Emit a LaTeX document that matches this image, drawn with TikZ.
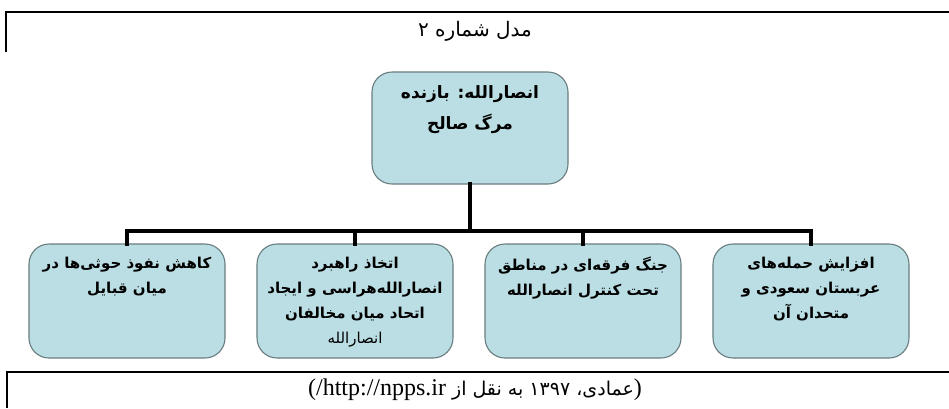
\documentclass[tikz,border=0pt]{standalone}
\usepackage{fontspec}
\setmainfont{Liberation Serif}
\newfontfamily\arabicfont[Script=Arabic]{DejaVu Sans}
\TeXXeTstate=1
\definecolor{boxfill}{RGB}{186,222,227}
\definecolor{boxline}{RGB}{105,125,128}
\tikzset{
  rbox/.style={draw=boxline, fill=boxfill, line width=1.1pt, rounded corners=20pt,
    minimum width=196pt, inner sep=0pt, outer sep=0pt},
  conn/.style={line width=3.6pt, line cap=rect},
  frame/.style={line width=2.2pt},
}
\newcommand{\rl}[1]{\beginR #1\endR}
\begin{document}
\begin{tikzpicture}[x=1pt,y=-1pt]
\useasboundingbox (0,0) rectangle (949,408);
% frames
\draw[frame] (6,52) -- (6,12) -- (949,12);
\draw[line width=1.6pt] (7,408) -- (7,372) -- (949,372);
\node (title) at (475,31) {\arabicfont\fontsize{20}{24}\selectfont\rl{مدل شماره ۲}};
% top box
\node[rbox, minimum height=112pt] (top) at (470,128)
  {\parbox[c][104pt][t]{190pt}{\centering\arabicfont\bfseries\fontsize{17}{31}\selectfont
   \vspace*{10pt}\rl{انصارالله: بازنده}\\ \rl{مرگ صالح}}};
% bottom boxes
\node[rbox, minimum height=114pt] (b1) at (127,301)
  {\parbox[c][106pt][t]{194pt}{\centering\arabicfont\bfseries\fontsize{15}{25}\selectfont
   \vspace*{9pt}\rl{کاهش نفوذ حوثی‌ها در}\\ \rl{میان قبایل}}};
\node[rbox, minimum height=114pt] (b2) at (355,301)
  {\parbox[c][106pt][t]{194pt}{\centering\arabicfont\bfseries\fontsize{15}{25}\selectfont
   \vspace*{9pt}\rl{اتخاذ راهبرد}\\ \rl{انصارالله‌هراسی و ایجاد}\\ \rl{اتحاد میان مخالفان}\\ {\mdseries\rl{انصارالله}}}};
\node[rbox, minimum height=114pt] (b3) at (583,301)
  {\parbox[c][106pt][t]{194pt}{\centering\arabicfont\bfseries\fontsize{15}{25}\selectfont
   \vspace*{9pt}\rl{جنگ فرقه‌ای در مناطق}\\ \rl{تحت کنترل انصارالله}}};
\node[rbox, minimum height=114pt] (b4) at (811,301)
  {\parbox[c][106pt][t]{194pt}{\centering\arabicfont\bfseries\fontsize{15}{25}\selectfont
   \vspace*{9pt}\rl{افزایش حمله‌های}\\ \rl{عربستان سعودی و}\\ \rl{متحدان آن}}};
% connectors
\coordinate (bus) at (470,231);
\draw[conn] (top.south) -- (top.south |- bus);
\draw[conn] (b1.north |- bus) -- (b4.north |- bus);
\foreach \b in {b1,b2,b3,b4} \draw[conn] (\b.north |- bus) -- (\b.north);
% caption
\node (cap) at (475,390) {\fontsize{24}{28}\selectfont (/http://npps.ir {\arabicfont\fontsize{19}{22}\selectfont\beginR عمادی، \beginL ۱۳۹۷\endL{} به نقل از\endR})};
\end{tikzpicture}
\end{document}
